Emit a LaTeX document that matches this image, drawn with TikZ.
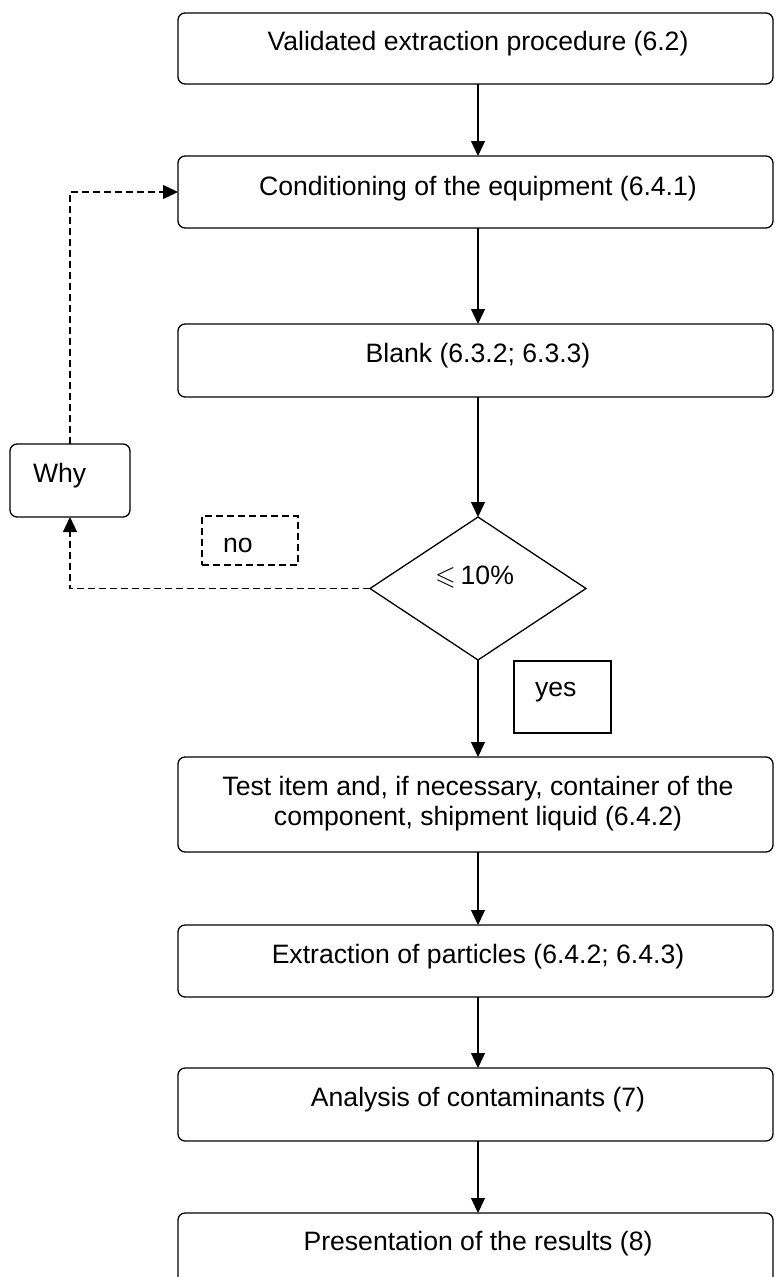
\documentclass[tikz,border=0pt]{standalone}
\usepackage{fontspec}
\usepackage{amssymb}
\setmainfont{Liberation Sans}
\usetikzlibrary{shapes.geometric,arrows.meta}
\begin{document}
\begin{tikzpicture}[x=1pt,y=-1pt,
  every node/.style={inner sep=0pt, outer sep=0pt},
  txt/.style={font=\fontsize{26.6}{30}\selectfont, anchor=base},
  ltxt/.style={font=\fontsize{26.6}{30}\selectfont, anchor=base west},
  procbox/.style={draw, line width=1.3pt, rounded corners=7pt, minimum width=595pt},
  whybox/.style={draw, line width=1.3pt, rounded corners=7pt, minimum width=120pt, minimum height=73pt},
  nobox/.style={draw, line width=1.3pt, dash pattern=on 7pt off 4pt, minimum width=96pt, minimum height=49pt},
  yesbox/.style={draw, line width=1.3pt, minimum width=97pt, minimum height=72pt},
  decision/.style={draw, line width=1.3pt, diamond, minimum width=216pt, minimum height=143pt},
  arr/.style={-{Triangle[length=15pt,width=14pt]}, line width=1.3pt},
  dasharr/.style={arr, dash pattern=on 7pt off 4pt}
]
\clip (0,0) rectangle (774,1277);
\fill[white] (0,0) rectangle (774,1277);

% boxes
\node[procbox, minimum height=71pt] (b1) at (475.5,48.5) {};
\node[procbox, minimum height=72pt] (b2) at (475.5,192) {};
\node[procbox, minimum height=73pt] (b3) at (475.5,360.5) {};
\node[procbox, minimum height=95pt] (b4) at (475.5,804.5) {};
\node[procbox, minimum height=72pt] (b5) at (475.5,961) {};
\node[procbox, minimum height=73pt] (b6) at (475.5,1104.5) {};
\node[procbox, minimum height=72pt] (b7) at (475.5,1249) {};
\node[whybox] (why) at (70,480.5) {};
\node[nobox] (no) at (250,540.5) {};
\node[yesbox] (yes) at (562.5,697) {};
\node[decision] (dia) at (478,588.5) {};

% texts
\node[txt] (t1) at (478,50) {Validated extraction procedure (6.2)};
\node[txt] (t2) at (478,195) {Conditioning of the equipment (6.4.1)};
\node[txt] (t3) at (478,362) {Blank (6.3.2; 6.3.3)};
\node[txt] (t4a) at (478,795) {Test item and, if necessary, container of the};
\node[txt] (t4b) at (478,825) {component, shipment liquid (6.4.2)};
\node[txt] (t5) at (478,963) {Extraction of particles (6.4.2; 6.4.3)};
\node[txt] (t6) at (478,1106) {Analysis of contaminants (7)};
\node[txt] (t7) at (478,1250) {Presentation of the results (8)};
\node[ltxt] (twhy) at (33,482) {Why};
\node[ltxt] (tno) at (223,552) {no};
\node[ltxt] (tyes) at (535,696) {yes};
\node[ltxt] (tdia) at (435,584) {$\leqslant$\hspace{5pt}10\%};

% connectors
\coordinate (ax) at (478,0);
\draw[arr] (b1.south -| ax) -- (b2.north -| ax);
\draw[arr] (b2.south -| ax) -- (b3.north -| ax);
\draw[arr] (b3.south -| ax) -- (dia.north);
\draw[arr] (dia.south) -- (b4.north -| ax);
\draw[arr] (b4.south -| ax) -- (b5.north -| ax);
\draw[arr] (b5.south -| ax) -- (b6.north -| ax);
\draw[arr] (b6.south -| ax) -- (b7.north -| ax);
\draw[dasharr] (dia.west) -| (why.south);
\draw[dasharr] (why.north) |- (b2.west);
\end{tikzpicture}
\end{document}
